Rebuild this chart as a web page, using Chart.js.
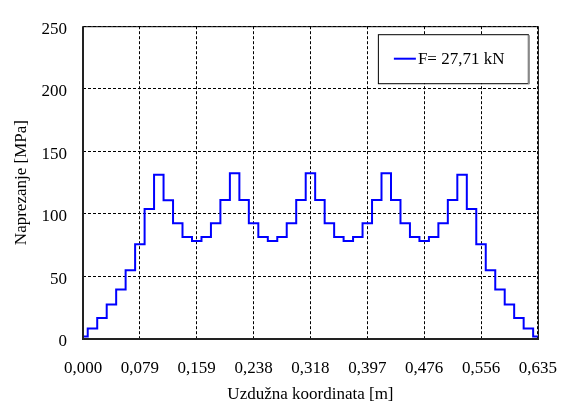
<!DOCTYPE html>
<html>
<head>
<meta charset="utf-8">
<script src="https://cdn.jsdelivr.net/npm/chart.js@4.4.1/dist/chart.umd.min.js"></script>
<style>
html,body{margin:0;padding:0;background:#fff;}
#wrap{width:576px;height:412px;}
</style>
</head>
<body>
<div id="wrap"><canvas id="c" width="576" height="412"></canvas></div>
<script>
// Data
const seriesLabel = 'F= 27,71 kN';
const xPositions = [0, 0.0132, 0.0265, 0.0397, 0.0529, 0.0661, 0.0794, 0.0926, 0.1058, 0.1191,
  0.1323, 0.1455, 0.1588, 0.1720, 0.1852, 0.1984, 0.2117, 0.2249, 0.2381, 0.2514,
  0.2646, 0.2778, 0.2910, 0.3043, 0.3175, 0.3307, 0.3440, 0.3572, 0.3704, 0.3836,
  0.3969, 0.4101, 0.4233, 0.4366, 0.4498, 0.4630, 0.4763, 0.4895, 0.5027, 0.5159,
  0.5292, 0.5424, 0.5556, 0.5689, 0.5821, 0.5953, 0.6085, 0.6218, 0.6350];
const stressValues = [2, 8.3, 16.8, 27.6, 39.5, 55, 75.7, 103.9, 131.3, 110.9,
  92.5, 81.6, 78.3, 81.6, 92.5, 111, 132.5, 111, 92.5, 81.6,
  78.3, 81.6, 92.5, 111, 132.5, 111, 92.5, 81.6, 78.3, 81.6,
  92.5, 111, 132.5, 111, 92.5, 81.6, 78.3, 81.6, 92.5, 111,
  131.3, 103.9, 75.7, 55, 39.5, 27.6, 16.8, 8.3, 2];
const xTickValues = [0, 0.079375, 0.15875, 0.238125, 0.3175, 0.396875, 0.47625, 0.555625, 0.635];
const xTickLabels = ['0,000', '0,079', '0,159', '0,238', '0,318', '0,397', '0,476', '0,556', '0,635'];
const yTickValues = [0, 50, 100, 150, 200, 250];
const yTickLabels = ['0', '50', '100', '150', '200', '250'];
const xTitle = 'Uzdužna koordinata [m]';
const yTitle = 'Naprezanje [MPa]';

const points = xPositions.map((x, i) => ({x: x, y: stressValues[i]}));
const FONT = '"Liberation Serif", "Times New Roman", serif';

const frame = {
  id: 'frame',
  afterDatasetsDraw(chart) {
    const {ctx, chartArea: a} = chart;
    ctx.save();
    ctx.strokeStyle = '#000';
    ctx.lineWidth = 1;
    ctx.strokeRect(a.left + 0.5, a.top + 0.5, a.right - a.left, a.bottom - a.top);
    ctx.strokeStyle = '#222';
    ctx.lineWidth = 2;
    ctx.beginPath();
    ctx.moveTo(a.left, a.top);
    ctx.lineTo(a.left, a.bottom);
    ctx.lineTo(a.right + 1, a.bottom);
    ctx.stroke();
    ctx.restore();
  },
  afterDraw(chart) {
    const {ctx, chartArea: a} = chart;
    const ds = chart.data.datasets[0];
    const bx = a.right - 160, by = a.top + 8, bw = 150, bh = 49;
    ctx.save();
    ctx.fillStyle = '#fff';
    ctx.fillRect(bx, by, bw, bh);
    ctx.strokeStyle = '#000';
    ctx.lineWidth = 1;
    ctx.strokeRect(bx + 0.5, by + 0.5, bw, bh);
    ctx.strokeStyle = '#888';
    ctx.lineWidth = 2;
    ctx.beginPath();
    ctx.moveTo(bx + bw + 1, by + 1);
    ctx.lineTo(bx + bw + 1, by + bh + 1);
    ctx.stroke();
    const ly = by + bh / 2;
    ctx.strokeStyle = ds.borderColor;
    ctx.lineWidth = 2;
    ctx.beginPath();
    ctx.moveTo(bx + 16, ly);
    ctx.lineTo(bx + 38, ly);
    ctx.stroke();
    ctx.fillStyle = '#000';
    ctx.font = '17px ' + FONT;
    ctx.textBaseline = 'middle';
    ctx.textAlign = 'left';
    ctx.fillText(ds.label, bx + 40, ly + 1);
    ctx.restore();
  }
};

new Chart(document.getElementById('c'), {
  type: 'line',
  data: {
    datasets: [{
      label: seriesLabel,
      data: points,
      borderColor: '#0000ff',
      borderWidth: 2,
      pointRadius: 0,
      fill: false,
      stepped: 'middle'
    }]
  },
  options: {
    responsive: false,
    animation: false,
    events: [],
    layout: {padding: {left: 0, right: 31, top: 15, bottom: 0}},
    plugins: {legend: {display: false}, tooltip: {enabled: false}},
    scales: {
      x: {
        type: 'linear',
        min: 0, max: 0.635,
        afterBuildTicks: s => { s.ticks = xTickValues.map(v => ({value: v})); },
        afterFit: s => { s.height = 73; },
        ticks: {
          callback: (v, i) => xTickLabels[i],
          font: {family: FONT, size: 17},
          color: '#000',
          padding: 19,
          maxRotation: 0,
          autoSkip: false
        },
        grid: {color: '#000', lineWidth: 1, drawTicks: false, tickBorderDash: [3, 2]},
        border: {display: false, dash: [3, 2]},
        title: {display: true, text: xTitle, color: '#000',
          font: {family: FONT, size: 17}, padding: {top: 0, bottom: 7}}
      },
      y: {
        min: 0, max: 250,
        afterBuildTicks: s => { s.ticks = yTickValues.map(v => ({value: v})); },
        afterFit: s => { s.width = 83; },
        ticks: {
          callback: (v, i) => yTickLabels[i],
          font: {family: FONT, size: 17},
          color: '#000',
          padding: 16,
          labelOffset: 3
        },
        grid: {color: '#000', lineWidth: 1, drawTicks: false},
        border: {display: false, dash: [3, 2]},
        title: {display: true, text: yTitle, color: '#000',
          font: {family: FONT, size: 17}, padding: {top: 11, bottom: 0}}
      }
    }
  },
  plugins: [frame]
});
</script>
</body>
</html>
